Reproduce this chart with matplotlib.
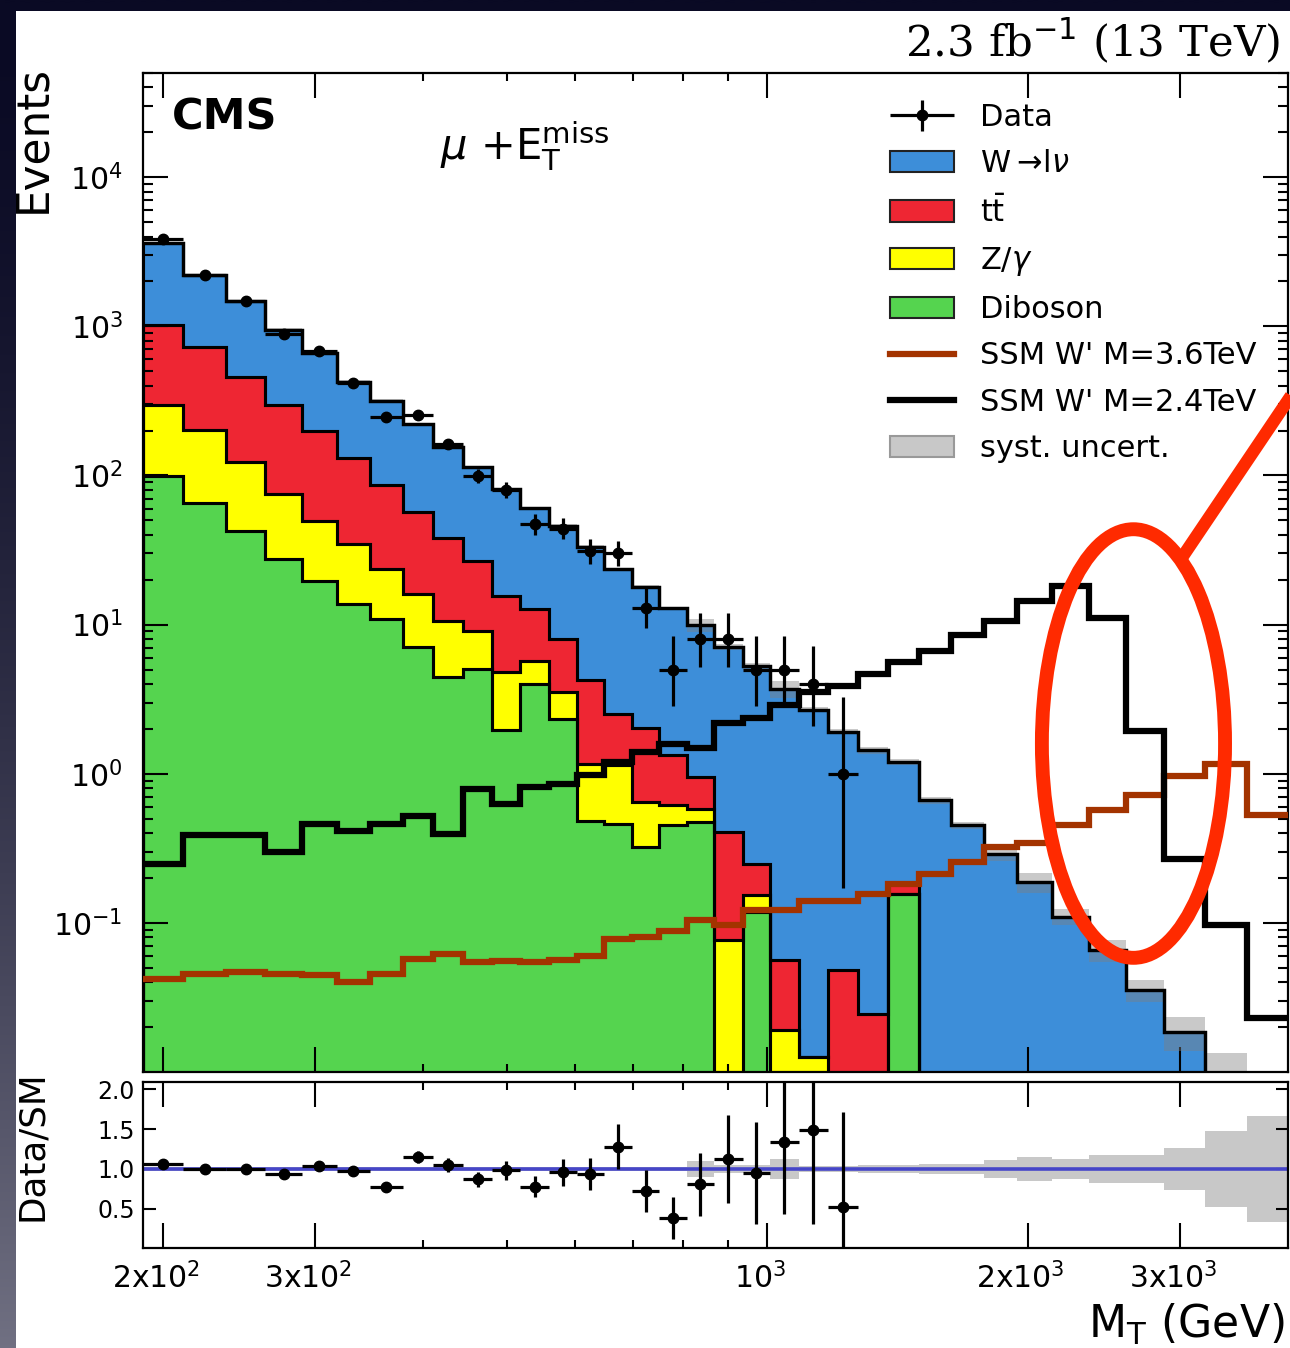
import numpy as np
import matplotlib.pyplot as plt
from matplotlib.patches import Ellipse, Rectangle, Patch
from matplotlib.lines import Line2D
from matplotlib.container import ErrorbarContainer
from matplotlib.legend_handler import HandlerErrorbar
from matplotlib.transforms import ScaledTranslation
from matplotlib.ticker import FixedLocator, FixedFormatter, NullFormatter, LogLocator

plt.rcParams['font.family'] = 'DejaVu Sans'
plt.rcParams['mathtext.fontset'] = 'dejavusans'

# transverse mass binning (GeV)
edges = np.array([190, 211, 237, 263, 290, 318, 347, 379, 411, 445, 481, 518,
                  560, 602, 648, 698, 750, 807, 868, 937, 1007, 1087, 1177,
                  1272, 1381, 1498, 1630, 1780, 1945, 2135, 2354, 2596, 2873,
                  3211, 3586, 4000])

# expected events per bin for each background
wlnu = np.array([2597, 1478, 1014, 652, 460, 295, 231, 165, 117, 87.2, 65.8,
                 47.7, 37.8, 28.8, 20.9, 15.8, 11.5, 8.95, 6.69, 5.01, 3.67,
                 2.67, 1.87, 1.41, 1.02, 0.663, 0.451, 0.291, 0.188, 0.11,
                 0.0655, 0.0353, 0.0186, 0.009, 0.004])
ttbar = np.array([728, 529, 333, 223, 150.5, 96, 63, 40.8, 27.4, 17.7, 10.8,
                  7.06, 4.51, 3.06, 1.39, 1.383, 0.71, 0.369, 0.331, 0.097,
                  0.037, 0, 0.048, 0.0246, 0.026, 0, 0, 0, 0, 0, 0, 0, 0, 0, 0])
dy = np.array([196, 137, 80.5, 47.7, 29.8, 21.0, 12.7, 9.05, 6.16, 4.05, 2.85,
               1.74, 1.19, 0.69, 0.68, 0.324, 0.17, 0.108, 0.0764, 0.034,
               0.019, 0.0126, 0, 0, 0, 0, 0, 0, 0, 0, 0, 0, 0, 0, 0])
diboson = np.array([99, 65.6, 42.5, 27.6, 19.7, 13.8, 10.9, 7.05, 4.44, 5.05,
                    1.95, 4.0, 2.34, 0.48, 0.46, 0.323, 0.45, 0.475, 0, 0.119,
                    0, 0, 0, 0, 0.157, 0, 0, 0, 0, 0, 0, 0, 0, 0, 0])
# relative systematic uncertainty on the total background
syst_rel = np.array([0.02, 0.02, 0.02, 0.02, 0.02, 0.02, 0.02, 0.02, 0.02,
                     0.02, 0.02, 0.02, 0.03, 0.03, 0.03, 0.03, 0.03, 0.10,
                     0.05, 0.05, 0.13, 0.04, 0.04, 0.05, 0.05, 0.06, 0.06,
                     0.11, 0.15, 0.12, 0.17, 0.17, 0.26, 0.48, 0.67])

# signal shapes
wprime_36 = np.array([0.0422, 0.0456, 0.0468, 0.0456, 0.0444, 0.0401, 0.0456,
                      0.0575, 0.0621, 0.0546, 0.0551, 0.0546, 0.056, 0.060,
                      0.078, 0.0806, 0.0879, 0.104, 0.0975, 0.1228, 0.1228,
                      0.1396, 0.1396, 0.157, 0.183, 0.214, 0.256, 0.323, 0.345,
                      0.451, 0.568, 0.716, 0.967, 1.17, 0.526])
wprime_24 = np.array([0.249, 0.39, 0.39, 0.298, 0.461, 0.41, 0.461, 0.52,
                      0.395, 0.793, 0.628, 0.815, 0.859, 0.975, 1.2, 1.4, 1.59,
                      1.48, 2.18, 2.37, 2.87, 3.53, 3.88, 4.69, 5.61, 6.61,
                      8.55, 10.5, 14.3, 18.2, 11.1, 1.93, 0.27, 0.0964, 0.0229])

# observed events (first bins only, the rest are empty)
data = np.array([3840, 2210, 1468, 893, 686, 417, 245, 255, 163, 99, 80, 47,
                 44, 31, 30, 13, 5, 8, 8, 5, 5, 4, 1])

xticks = [200, 300, 1000, 2000, 3000]
xticklabels = [r'$\mathdefault{2x10^{2}}$', r'$\mathdefault{3x10^{2}}$',
               r'$\mathdefault{10^{3}}$', r'$\mathdefault{2x10^{3}}$',
               r'$\mathdefault{3x10^{3}}$']

c_w = '#3d8ed9'
c_tt = '#ee2633'
c_dy = '#ffff00'
c_vv = '#55d44f'
c_s36 = '#a33300'
c_s24 = 'black'
c_ring = '#ff2a00'

def garwood(n):
    n = np.asarray(n, float)
    lo = n - n * (1 - 1 / (9 * n) - 1 / (3 * np.sqrt(n))) ** 3
    hi = (n + 1) * (1 - 1 / (9 * (n + 1)) + 1 / (3 * np.sqrt(n + 1))) ** 3 - n
    return lo, hi

lvl_vv = diboson
lvl_dy = lvl_vv + dy
lvl_tt = lvl_dy + ttbar
total = lvl_tt + wlnu

nd = len(data)
centers = np.sqrt(edges[:-1] * edges[1:])
xlo = centers - edges[:-1]
xhi = edges[1:] - centers
d_lo, d_hi = garwood(data)
ratio = data / total[:nd]
ratio_err = d_hi / total[:nd]

W, H = 1290, 1348
fig = plt.figure(figsize=(W / 100, H / 100), dpi=100)

# slide background behind the plot
bg = fig.add_axes([0, 0, 1, 1], zorder=-10)
bg.axis('off')
t = np.linspace(0, 1, 256)[:, None] ** 1.6
grad = np.stack([10 + 102 * t, 10 + 102 * t, 36 + 94 * t], axis=-1) / 255
bg.imshow(grad, aspect='auto', extent=[0, 1, 0, 1], interpolation='bilinear')
bg.add_patch(Rectangle((16 / W, 0), 1, 1 - 11 / H, facecolor='white',
                       edgecolor='none', transform=bg.transAxes))
bg.set_xlim(0, 1)
bg.set_ylim(0, 1)

ax = fig.add_axes([143.3 / W, 1 - 1072 / H, (1288 - 143.3) / W, 999 / H])
axr = fig.add_axes([143.3 / W, 1 - 1248 / H, (1288 - 143.3) / W, 166 / H],
                   sharex=ax)

base = 1e-5
ax.set_yscale('log')
ax.set_xscale('log')
for lvl, col in [(total, c_w), (lvl_tt, c_tt), (lvl_dy, c_dy), (lvl_vv, c_vv)]:
    ax.stairs(np.maximum(lvl, base), edges, baseline=base, fill=True,
              facecolor=col, edgecolor='black', linewidth=2.2, zorder=1)
    ax.stairs(np.maximum(lvl, base), edges, baseline=base, fill=False,
              color='black', linewidth=2.2, zorder=1.1)

ax.stairs(total * (1 + syst_rel), edges, baseline=total * (1 - syst_rel),
          fill=True, facecolor='#7f7f7f', alpha=0.42, edgecolor='none',
          zorder=2)
ax.stairs(total, edges, baseline=None, color='black', linewidth=2.4, zorder=2.5)

ax.stairs(wprime_36, edges, baseline=None, color=c_s36, linewidth=4.5, zorder=3)
ax.stairs(wprime_24, edges, baseline=None, color=c_s24, linewidth=4.5, zorder=3)

h_data = ax.errorbar(centers[:nd], data, xerr=[xlo[:nd], xhi[:nd]],
                     yerr=[d_lo, d_hi], fmt='o', color='black', ms=7.5,
                     elinewidth=2.3, capsize=0, zorder=4)

ax.set_xlim(190, 4000)
ax.set_ylim(0.01, 5e4)
ax.yaxis.set_major_locator(FixedLocator([0.1, 1, 10, 100, 1000, 1e4]))
ax.yaxis.set_minor_locator(LogLocator(base=10, subs=np.arange(2, 10), numticks=20))
ax.yaxis.set_minor_formatter(NullFormatter())

# ratio panel
axr.stairs(1 + syst_rel, edges, baseline=1 - syst_rel, fill=True,
           facecolor='#c8c8c8', edgecolor='none', zorder=1)
axr.axhline(1.0, color='#4646c8', linewidth=2.6, zorder=2)
axr.errorbar(centers[:nd], ratio, xerr=[xlo[:nd], xhi[:nd]], yerr=ratio_err,
             fmt='o', color='black', ms=7.5, elinewidth=2.3, capsize=0, zorder=3)
axr.set_ylim(0.01, 2.09)
axr.yaxis.set_major_locator(FixedLocator([0.5, 1.0, 1.5, 2.0]))
axr.yaxis.set_major_formatter(FixedFormatter(['0.5', '1.0', '1.5', '2.0']))
axr.xaxis.set_major_locator(FixedLocator(xticks))
axr.xaxis.set_major_formatter(FixedFormatter(xticklabels))
axr.xaxis.set_minor_locator(FixedLocator([400, 500, 600, 700, 800, 900]))
axr.xaxis.set_minor_formatter(NullFormatter())

for a in (ax, axr):
    a.tick_params(which='both', direction='in', top=True, right=True, width=1.5)
    for s in a.spines.values():
        s.set_linewidth(1.6)
ax.tick_params(axis='x', which='major', length=18)
ax.tick_params(axis='x', which='minor', length=6)
ax.tick_params(axis='y', which='major', length=18, labelsize=21.5, pad=15)
ax.tick_params(axis='y', which='minor', length=7)
ax.tick_params(labelbottom=False)
axr.tick_params(axis='x', which='major', length=18, labelsize=21.5, pad=10)
axr.tick_params(axis='x', which='minor', length=6)
axr.tick_params(axis='y', which='major', length=9, labelsize=17, pad=6)

# x tick labels sit a little left of their ticks
shift = ScaledTranslation(-7 / 100, 0, fig.dpi_scale_trans)
for lbl in axr.get_xticklabels():
    lbl.set_transform(lbl.get_transform() + shift)

ax.set_ylabel('Events', fontsize=31.5, loc='top')
ax.yaxis.set_label_coords(-0.0775, 1.008)
axr.set_ylabel('Data/SM', fontsize=25.7, loc='top')
axr.yaxis.set_label_coords(-0.082, 1.072)
axr.set_xlabel(r'M$_{\mathrm{T}}$ (GeV)', fontsize=31.8, loc='right')
axr.xaxis.set_label_coords(0.9974, -0.325)

ax.text(0.025, 0.943, 'CMS', transform=ax.transAxes, fontsize=31,
        fontweight='bold', ha='left', va='baseline')
ax.text(0.259, 0.913, r'$\mu$ +E$_{\mathrm{T}}^{\mathrm{miss}}$',
        transform=ax.transAxes, fontsize=30, ha='left', va='baseline')
fig.text(1280 / W, 1 - 56 / H, r'2.3 fb$^{-1}$ (13 TeV)', fontsize=31.3,
         family='DejaVu Serif', ha='right', va='baseline')

handles = [h_data,
           Patch(facecolor=c_w, edgecolor='#222222', linewidth=1.5),
           Patch(facecolor=c_tt, edgecolor='#222222', linewidth=1.5),
           Patch(facecolor=c_dy, edgecolor='#222222', linewidth=1.5),
           Patch(facecolor=c_vv, edgecolor='#222222', linewidth=1.5),
           Line2D([], [], color=c_s36, linewidth=4.5),
           Line2D([], [], color=c_s24, linewidth=4.5),
           Patch(facecolor='#c8c8c8', edgecolor='#999999', linewidth=1.5)]
labels = ['Data', r'W$\rightarrow\!$l$\nu$', r't$\bar{\mathrm{t}}$',
          r'Z/$\gamma$', 'Diboson', "SSM W' M=3.6TeV", "SSM W' M=2.4TeV",
          'syst. uncert.']
ax.legend(handles, labels, loc='upper left', bbox_to_anchor=(0.652, 0.970),
          frameon=False, fontsize=22, borderpad=0, borderaxespad=0,
          handlelength=2.1, handletextpad=0.85, labelspacing=0.565,
          handler_map={ErrorbarContainer: HandlerErrorbar(xerr_size=1.05,
                                                          yerr_size=0.5)})

# highlight around the 2.4 TeV peak
ax.add_patch(Ellipse((0.865, 0.3288), 0.160, 0.429, transform=ax.transAxes,
                     fill=False, edgecolor=c_ring, linewidth=10, clip_on=False,
                     zorder=10))
ax.add_line(Line2D([0.9083, 1.006], [0.5165, 0.6827], transform=ax.transAxes,
                   color=c_ring, linewidth=9, clip_on=False, zorder=10,
                   solid_capstyle='butt'))

fig.savefig('out.png', dpi=100)
